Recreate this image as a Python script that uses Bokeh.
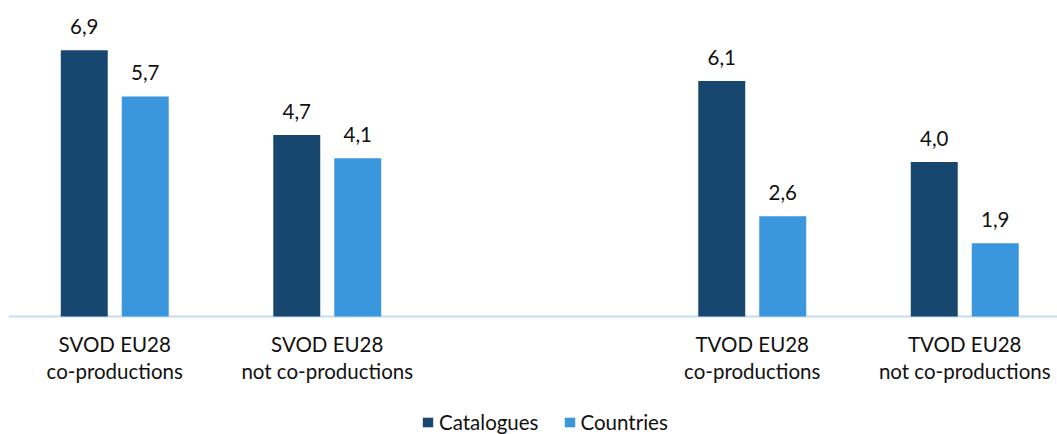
from bokeh.plotting import figure
from bokeh.models import Range1d, Span, Legend, LegendItem, ColumnDataSource
from bokeh.core.properties import value
from bokeh.embed import file_html
from bokeh.resources import INLINE

# ---- data ----
categories = [
    "SVOD EU28\nco-productions",
    "SVOD EU28\nnot co-productions",
    "TVOD EU28\nco-productions",
    "TVOD EU28\nnot co-productions",
]
catalogues = [6.9, 4.7, 6.1, 4.0]
countries = [5.7, 4.1, 2.6, 1.9]
series_names = ["Catalogues", "Countries"]

# ---- styling ----
FONT = "Lato"
FS = "20.5px"
TEXT_COLOR = "#111111"
DARK = "#17476F"
LIGHT = "#3A96DD"
BASELINE = "#C3DCF2"

# a blank slot separates the SVOD and TVOD groups
slots = [i + (1 if i >= 2 else 0) for i in range(len(categories))]
BAR_W = 0.221
OFF = 0.1435


def fmt(v):
    return f"{v:.1f}".replace(".", ",")


src = ColumnDataSource(dict(
    slot=slots,
    cat=categories,
    catalogues=catalogues,
    countries=countries,
    cat_x=[s - OFF for s in slots],
    cou_x=[s + OFF for s in slots],
    cat_lbl=[fmt(v) for v in catalogues],
    cou_lbl=[fmt(v) for v in countries],
    zero=[0] * len(slots),
))

px_per_cat = 212.5
FW, FH = 1049, 426
p = figure(
    width=FW + 8, height=FH + 8,
    x_range=Range1d(-0.5, -0.5 + FW / px_per_cat),
    y_range=Range1d(-3.057, 7.979),
    output_backend="svg", toolbar_location=None,
    min_border=0, min_border_left=8, min_border_top=8,
    outline_line_color=None,
)
p.axis.visible = False
p.grid.visible = False
p.background_fill_color = "white"
p.border_fill_color = "white"

p.add_layout(Span(location=0, dimension="width", line_color=BASELINE,
                  line_width=2, level="underlay"))

r1 = p.vbar(x="cat_x", top="catalogues", width=BAR_W, source=src,
            fill_color=DARK, line_color=None)
r2 = p.vbar(x="cou_x", top="countries", width=BAR_W, source=src,
            fill_color=LIGHT, line_color=None)

for xcol, ycol, tcol in (("cat_x", "catalogues", "cat_lbl"),
                         ("cou_x", "countries", "cou_lbl")):
    p.text(x=xcol, y=ycol, text=tcol, source=src,
           text_align="center", text_baseline="alphabetic", y_offset=-24,
           text_font=value(FONT), text_font_size=FS, text_color=TEXT_COLOR)

p.text(x="slot", y="zero", text="cat", source=src,
       text_align="center", text_baseline="top", y_offset=16,
       text_line_height=1.12,
       text_font=value(FONT), text_font_size=FS, text_color=TEXT_COLOR)

legend = Legend(
    items=[LegendItem(label=series_names[0], renderers=[r1]),
           LegendItem(label=series_names[1], renderers=[r2])],
    location=(413, 0), orientation="horizontal",
    label_text_font=FONT, label_text_font_size=FS,
    label_text_color=TEXT_COLOR,
    glyph_width=13, glyph_height=12, label_standoff=5, spacing=24,
    padding=0, margin=0, border_line_color=None,
    background_fill_alpha=0,
)
p.add_layout(legend, "center")

open("out.html", "w").write(file_html(p, INLINE))
